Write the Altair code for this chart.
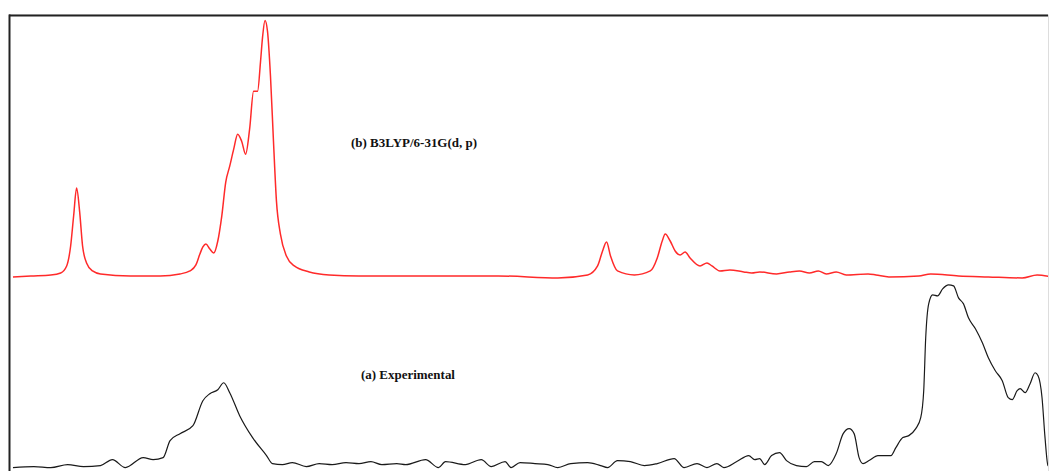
import altair as alt
import pandas as pd

# Calculated spectrum (b) B3LYP/6-31G(d, p) — position (x) and height (y)
red_x = [12, 30, 50, 60, 66, 70, 73, 76, 79, 82, 86, 92, 100, 130, 160, 180, 190, 196, 200, 203, 206, 210, 214,
         218, 222, 226, 230, 234, 238, 242, 246, 250, 254, 258, 261, 263, 265.5, 268, 271, 274, 277, 281, 287,
         295, 310, 330, 360, 420, 500, 560, 590, 600, 605, 609, 613, 620, 637, 653, 660, 665, 668, 673, 678,
         683, 688, 693, 703, 710, 715, 723, 733, 747, 755, 763, 780, 793, 803, 813, 822, 830, 840, 850, 872,
         880, 893, 923, 935, 963, 993, 1027, 1042, 1057]
red_y = [195, 196, 197, 199, 206, 226, 256, 284, 261, 226, 209, 201, 198, 196, 196, 198, 201, 207, 218, 225, 228, 223, 219,
         231, 256, 290, 306, 323, 338, 331, 318, 343, 381, 381, 411, 435, 452, 441, 396, 331, 271, 238, 216,
         206, 200, 197, 196, 196, 196, 194, 197, 206, 221, 230, 216, 201, 197, 201, 214, 231, 238, 231, 221,
         217, 220, 214, 206, 209, 206, 201, 202, 200, 199, 200, 198, 200, 201, 199, 201, 198, 200, 197, 198,
         197, 195, 196, 198, 196, 195, 194, 197, 195]

# Experimental spectrum (a)
blk_x = [12, 33, 50, 67, 83, 100, 112, 125, 143, 153, 163, 170, 180, 193, 203, 210, 218, 224, 230, 240, 253, 267,
         273, 283, 293, 307, 320, 333, 347, 360, 372, 383, 398, 407, 427, 440, 447, 467, 483, 493, 507, 513, 522,
         537, 550, 560, 573, 590, 603, 610, 620, 633, 647, 660, 677, 687, 700, 710, 720, 727, 740, 752, 758, 763,
         768, 775, 783, 790, 800, 810, 818, 825, 832, 840, 847, 853, 858, 863, 867, 873, 882, 895, 900, 907, 913,
         920, 925, 928, 930, 933, 937, 942, 947, 953, 958, 963, 968, 973, 980, 987, 993, 1000, 1007, 1013, 1017,
         1022, 1025, 1030, 1035, 1040, 1043, 1047, 1050, 1053, 1057]
blk_y = [4, 5, 4, 7, 5, 6, 12, 4, 14, 12, 14, 31, 38, 46, 71, 78, 82, 89, 79, 56, 34, 16,
         8, 7, 9, 5, 8, 7, 9, 8, 10, 7, 8, 7, 12, 4, 10, 7, 12, 5, 10, 4, 9,
         8, 7, 4, 8, 9, 6, 4, 11, 10, 6, 8, 13, 4, 8, 4, 8, 4, 10, 16, 12, 13,
         7, 16, 19, 11, 6, 5, 10, 10, 6, 18, 38, 43, 38, 14, 8, 11, 16, 16, 24, 34, 36,
         43, 54, 81, 134, 168, 177, 176, 183, 187, 186, 174, 168, 154, 143, 129, 114, 101, 91, 74, 72,
         81, 83, 79, 88, 99, 96, 74, 34, 6, 4]

label_text = ["(b) B3LYP/6-31G(d, p)", "(a) Experimental"]
label_x = [352, 362]
label_y = [329, 97]

red_df = pd.DataFrame({"x": red_x, "y": red_y})
blk_df = pd.DataFrame({"x": blk_x, "y": blk_y})
lab_df = pd.DataFrame({"x": label_x, "y": label_y, "t": label_text})

W, H = 1041, 458
xs = alt.Scale(domain=[8, 1053], nice=False, zero=False)
ys = alt.Scale(domain=[0, 458], nice=False, zero=False)

red = alt.Chart(red_df).mark_line(color="#ff2a2a", strokeWidth=1.5, clip=True, interpolate="monotone").encode(
    x=alt.X("x:Q", scale=xs, axis=None), y=alt.Y("y:Q", scale=ys, axis=None), order="x:Q")
blk = alt.Chart(blk_df).mark_line(color="#1a1a1a", strokeWidth=1.2, clip=True, interpolate="monotone").encode(
    x=alt.X("x:Q", scale=xs, axis=None), y=alt.Y("y:Q", scale=ys, axis=None), order="x:Q")
labels = alt.Chart(lab_df).mark_text(font="Liberation Serif", fontWeight="bold", fontSize=13,
                                     align="left", baseline="middle", color="#111").encode(
    x=alt.X("x:Q", scale=xs, axis=None), y=alt.Y("y:Q", scale=ys, axis=None), text="t:N")

top_border = alt.Chart(pd.DataFrame({"a": [0]})).mark_rule(color="#222", strokeWidth=2).encode(
    x=alt.value(0), x2=alt.value(W), y=alt.value(1))
left_border = alt.Chart(pd.DataFrame({"a": [0]})).mark_rule(color="#222", strokeWidth=2).encode(
    x=alt.value(0.5), y=alt.value(0), y2=alt.value(H))

chart = alt.layer(top_border, left_border, red, blk, labels).properties(
    width=W, height=H, padding={"top": 5, "left": 0, "right": 0, "bottom": 0}
).configure_view(stroke=None).configure(background="white")

chart.save("out.html", embed_options={"renderer": "svg", "actions": False})
